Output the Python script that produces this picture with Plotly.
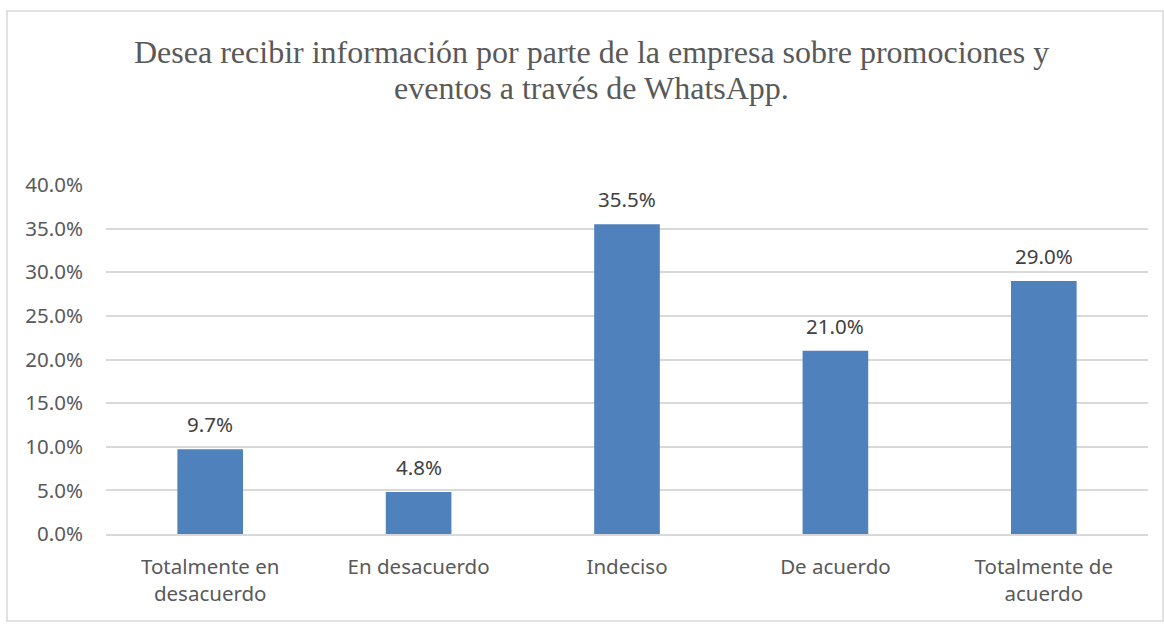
import plotly.graph_objects as go

categories = ["Totalmente en<br>desacuerdo", "En desacuerdo", "Indeciso", "De acuerdo", "Totalmente de<br>acuerdo"]
values = [9.7, 4.8, 35.5, 21.0, 29.0]
labels = ["9.7%", "4.8%", "35.5%", "21.0%", "29.0%"]
y_ticks = [0, 5, 10, 15, 20, 25, 30, 35, 40]
y_tick_text = ["0.0%", "5.0%", "10.0%", "15.0%", "20.0%", "25.0%", "30.0%", "35.0%", "40.0%"]
title_lines = ["Desea recibir información por parte de la empresa sobre promociones y",
               "eventos a través de WhatsApp."]

W, H = 1164, 626
ml, mr, mt, mb = 106, 16, 185, 92
SANS = "Noto Sans"

fig = go.Figure(go.Bar(
    x=categories, y=values,
    marker=dict(color="#4F81BD", line=dict(width=0)),
    hoverinfo="x+y",
))

pw = W - ml - mr
ph = H - mt - mb
def px_x(v): return (v - ml) / pw
def px_y(v): return (H - mb - v) / ph

annotations = []
for c, v, t in zip(categories, values, labels):
    annotations.append(dict(
        x=c, y=v, xref="x", yref="y", text=t, showarrow=False,
        yanchor="middle", xanchor="center", yshift=25,
        font=dict(family=SANS, size=20.5, color="#404040"),
    ))
for i, (line, ypx) in enumerate(zip(title_lines, [52, 88])):
    annotations.append(dict(
        x=px_x(591), y=px_y(ypx), xref="paper", yref="paper", text=line, showarrow=False,
        xanchor="center", yanchor="middle",
        font=dict(family="Liberation Serif", size=32, color="#595959"),
    ))

fig.update_layout(
    width=W, height=H,
    margin=dict(l=ml, r=mr, t=mt, b=mb),
    paper_bgcolor="white", plot_bgcolor="white",
    bargap=0.685,
    showlegend=False,
    annotations=annotations,
    xaxis=dict(
        showgrid=False, showline=True, linecolor="#d9d9d9", linewidth=1.5,
        ticks="", ticklabelstandoff=14,
        tickfont=dict(family=SANS, size=20.5, color="#595959"),
        fixedrange=True,
    ),
    yaxis=dict(
        range=[0, 40], tickvals=y_ticks, ticktext=y_tick_text,
        showgrid=True, gridcolor="#d9d9d9", gridwidth=1.5, zeroline=False,
        showline=False, ticks="", ticklabelstandoff=22,
        tickfont=dict(family=SANS, size=20.5, color="#595959"),
        fixedrange=True,
    ),
    shapes=[dict(
        type="rect", xref="paper", yref="paper",
        x0=px_x(7), x1=px_x(1163), y0=px_y(621), y1=px_y(11),
        line=dict(color="#d9d9d9", width=1.5), fillcolor="rgba(0,0,0,0)", layer="below",
    )],
)

fig.write_html("out.html", config={"displayModeBar": False},
               post_script="document.body.style.margin='0';document.body.style.overflow='hidden';")
